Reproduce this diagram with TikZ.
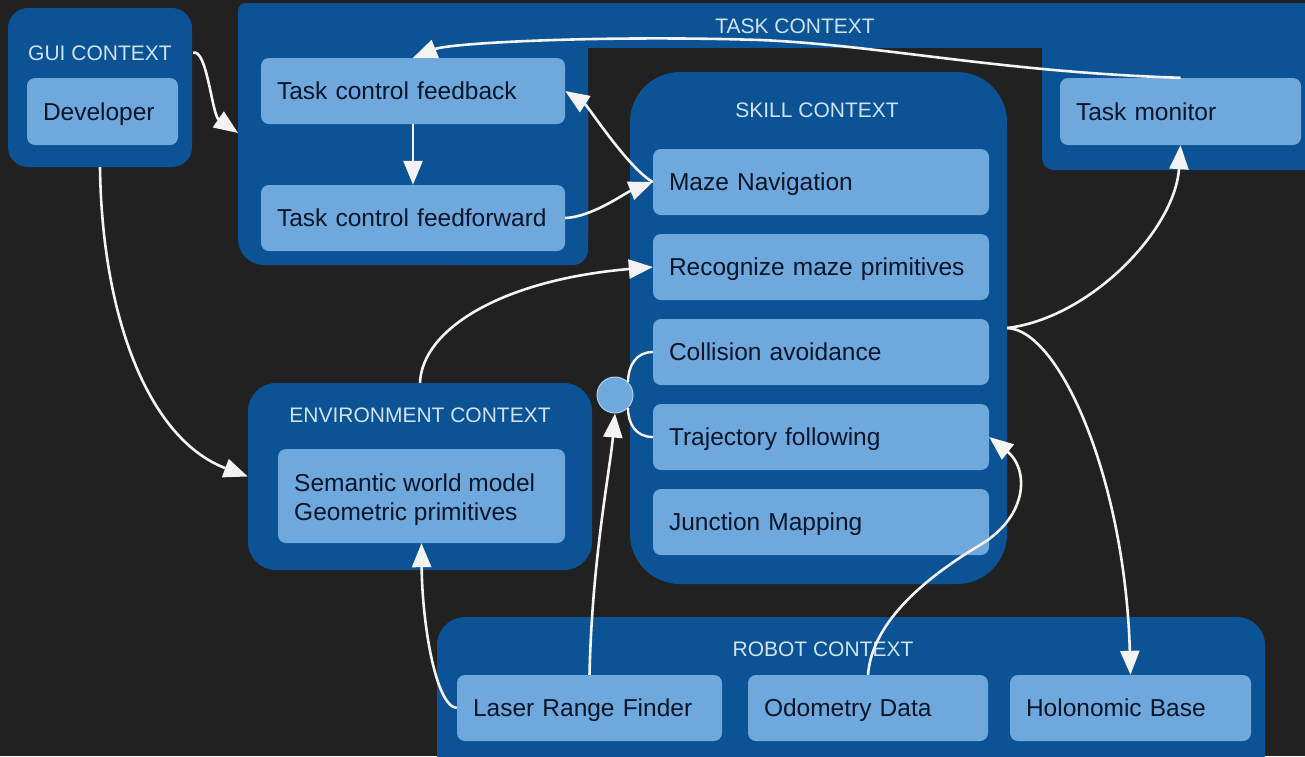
\documentclass[tikz,border=0pt]{standalone}
\usepackage{fontspec}
\setmainfont{Liberation Sans}
\usetikzlibrary{arrows.meta,calc}

\definecolor{bg}{HTML}{212121}
\definecolor{ctx}{HTML}{0B5394}
\definecolor{itemfill}{HTML}{6FA8DC}
\definecolor{ink}{HTML}{08162B}
\definecolor{caption}{HTML}{CFE2F3}
\definecolor{wire}{HTML}{F3F3F3}

\begin{document}
\begin{tikzpicture}[x=1pt,y=-1pt,
  ctxbox/.style={fill=ctx, draw=none, rounded corners=#1, inner sep=0pt},
  ctxbox/.default=26pt,
  ctxlabel/.style={text=caption, font=\fontsize{21}{25}\selectfont,
    inner sep=0pt, text height=15pt, text depth=0pt},
  item/.style={fill=itemfill, draw=none, rounded corners=8pt, text=ink,
    font=\fontsize{24.5}{29}\selectfont, align=left, inner xsep=16pt,
    inner ysep=0pt, minimum height=66pt, text height=17.5pt, text depth=0pt},
  itemtext/.style={text=ink, font=\fontsize{24.5}{29}\selectfont,
    align=left, inner sep=0pt},
  flow/.style={draw=wire, line width=2.6pt,
    -{Triangle[length=24pt,width=19pt]}},
  link/.style={draw=wire, line width=2.4pt}]

\useasboundingbox (0,0) rectangle (1305,756);
\fill[bg] (0,0) rectangle (1305,756);

% task context: one blue area wrapped around the skill context
\fill[ctx, rounded corners=26pt] (238,3) rectangle (588,265);
\fill[ctx, rounded corners=8pt] (238,3) rectangle (330,100);
\fill[ctx, rounded corners=15pt] (450,100) rectangle (588,265);
\fill[ctx] (300,3) rectangle (1320,48);
\fill[ctx, rounded corners=12pt] (1042,3) rectangle (1330,170);
\node[ctxlabel] (tasklbl) at (795,26) {TASK CONTEXT};
\coordinate (taskin) at (238,133);

% other contexts
\node[ctxbox=20pt, minimum width=184pt, minimum height=159pt] (gui) at (100,87.5) {};
\node[ctxlabel] (guilbl) at (100,53) {GUI CONTEXT};

\node[ctxbox=50pt, minimum width=377pt, minimum height=512pt] (skill) at (818.5,328) {};
\node[ctxlabel] (skilllbl) at (817,110) {SKILL CONTEXT};

\node[ctxbox=28pt, minimum width=344pt, minimum height=187pt] (env) at (420,476.5) {};
\node[ctxlabel] (envlbl) at (420,415) {ENVIRONMENT CONTEXT};

\node[ctxbox=28pt, minimum width=828pt, minimum height=190pt] (robot) at (851,712) {};
\node[ctxlabel] (robotlbl) at (823,649) {ROBOT CONTEXT};

% components
\node[item, text width=119pt, minimum height=67pt] (dev) at (102.5,111.5) {Developer};
\node[item, text width=272pt] (tcfb) at (413,91) {Task control feedback};
\node[item, text width=272pt] (tcff) at (413,218) {Task control feedforward};
\node[item, text width=209pt, minimum height=67pt] (tmon) at (1180.5,111.5) {Task monitor};

\node[item, text width=304pt] (maze) at (821,182) {Maze Navigation};
\node[item, text width=304pt] (recog) at (821,267) {Recognize maze primitives};
\node[item, text width=304pt] (coll) at (821,352) {Collision avoidance};
\node[item, text width=304pt] (traj) at (821,437) {Trajectory following};
\node[item, text width=304pt] (junc) at (821,522) {Junction Mapping};

\node[item, text width=255pt, minimum height=94pt] (world) at (421.5,496) {};
\node[itemtext, anchor=north west] (worldtxt) at (294,474)
  {Semantic world model\\Geometric primitives};

\node[item, text width=233pt] (laser) at (589.5,708) {Laser Range Finder};
\node[item, text width=208pt] (odo) at (868,708) {Odometry Data};
\node[item, text width=209pt] (holo) at (1130.5,708) {Holonomic Base};

\node[circle, fill=itemfill, draw=caption!70!itemfill, line width=1pt,
  minimum size=36pt, inner sep=0pt] (merge) at (615,395) {};

% connectors
\draw[flow] ($(gui.north east)+(1,45)$) .. controls (207,48) and (212,115) .. (taskin);
\draw[flow] (tmon.north) .. controls (1000,72) and (880,45) .. (760,40)
  .. controls (600,35) and (450,43) .. (tcfb.north);
\draw[flow] (tcfb.south) -- (tcff.north);
\draw[flow] (maze.west) .. controls (628,168) and (588,106) .. (tcfb.east);
\draw[flow] (tcff.east) .. controls (592,217) and (625,193) .. (maze.west);
\draw[flow] (env.north) .. controls (422,330) and (500,280) .. (recog.west);
\draw[flow] (gui.south) .. controls (102,320) and (150,440) .. (env.west);
\draw[flow] (laser.west) .. controls (435,706) and (422,620) .. (world.south);
\draw[flow] (laser.north) .. controls (592,560) and (610,470) .. (merge.south);
\draw[flow] (odo.north) .. controls (872,620) and (930,575) .. (980,545)
  .. controls (1030,515) and (1028,468) .. (traj.east);
\draw[flow] (skill.east) .. controls (1090,318) and (1175,230) .. (tmon.south);
\draw[flow] (skill.east) .. controls (1060,330) and (1125,480) .. (holo.north);
\draw[link] (coll.west) .. controls (636,352) and (628,366) .. (merge.north east);
\draw[link] (merge.south east) .. controls (628,424) and (636,437) .. (traj.west);

\end{tikzpicture}
\end{document}
